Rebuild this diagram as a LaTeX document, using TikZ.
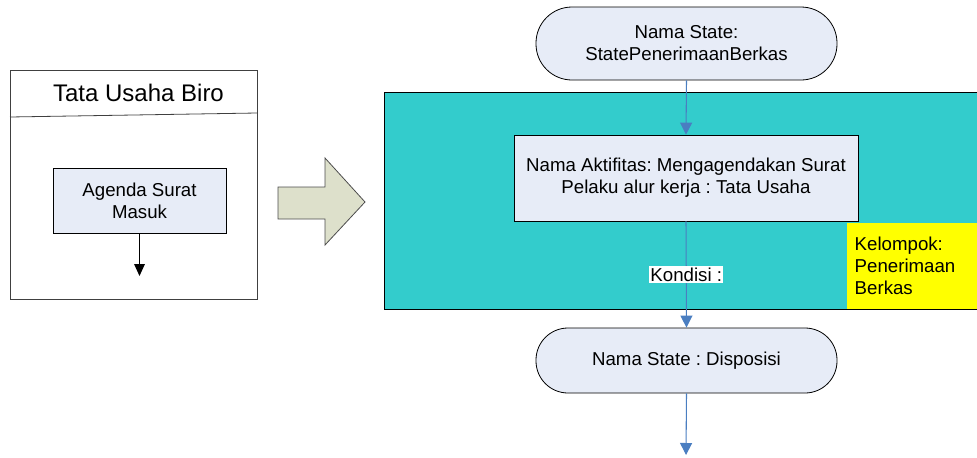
\documentclass[tikz,border=0pt]{standalone}
\usepackage{fontspec}
\setmainfont{Liberation Sans}
\frenchspacing
\usetikzlibrary{arrows.meta}
\definecolor{teal1}{HTML}{33CCCC}
\definecolor{boxfill}{HTML}{E7ECF7}
\definecolor{flowblue}{HTML}{4A7EC1}
\definecolor{bigarrow}{HTML}{DDE0CB}
\definecolor{yellow1}{HTML}{FFFF00}
\tikzset{
  txt/.style={font=\fontsize{14}{16.5}\selectfont, align=center},
  statebox/.style={txt, draw=black, fill=boxfill, rounded corners=#1, inner sep=0pt, line width=0.6pt},
  actbox/.style={txt, draw=black, fill=boxfill, inner sep=0pt, line width=0.6pt},
  flow/.style={draw=flowblue, line width=0.8pt, -{Triangle[width=9pt,length=9pt]}},
}
\begin{document}
\begin{tikzpicture}[x=0.75pt,y=-0.75pt]
\useasboundingbox (0,0) rectangle (977,457);
% left swimlane box
\draw[draw=black!75, line width=0.6pt] (10,70) rectangle (257,299);
\draw[draw=black!75, line width=0.6pt] (10,117) -- (257,113);
\node[font=\fontsize{18}{21}\selectfont] (title) at (138.5,93) {Tata Usaha Biro};
\node[actbox, minimum width=129.75pt, minimum height=48.75pt] (agenda) at (139.5,200.5) {Agenda Surat\\Masuk};
\coordinate (agendaend) at (139.5,276);
\draw[line width=0.8pt, -{Triangle[width=8pt,length=9pt]}] (agenda.south) -- (agendaend);
% big arrow
\draw[fill=bigarrow, draw=black!70, line width=0.6pt]
  (278,187) -- (325,187) -- (325,158) -- (365,202) -- (325,245) -- (325,219) -- (278,219) -- cycle;
% teal group
\fill[teal1] (384,92) rectangle (977,309);
\draw[black, line width=0.6pt] (977,92) -- (384,92) -- (384,309) -- (977,309);
\fill[yellow1] (847,223) rectangle (977,309);
\node[txt, align=left, anchor=west] (group) at (850,266) {Kelompok:\\Penerimaan\\Berkas};
% flow
\node[statebox=27pt, minimum width=225.75pt, minimum height=54.75pt] (s1) at (686.5,43.5) {Nama State:\\StatePenerimaanBerkas};
\node[actbox, minimum width=258pt, minimum height=64.5pt] (act) at (686,178) {Nama Aktifitas: Mengagendakan Surat\\Pelaku alur kerja : Tata Usaha};
\node[statebox=24pt, minimum width=225.75pt, minimum height=48.75pt] (s2) at (686.5,360.5) {Nama State : Disposisi};
\coordinate (endpt) at (686,455);
\draw[flow] (s1.south) -- (act.north);
\draw[flow] (act.south) -- (s2.north) node[pos=0.5, fill=white, inner sep=1pt, txt, text=black] (kond) {Kondisi :};
\draw[flow] (s2.south) -- (endpt);
\end{tikzpicture}
\end{document}
